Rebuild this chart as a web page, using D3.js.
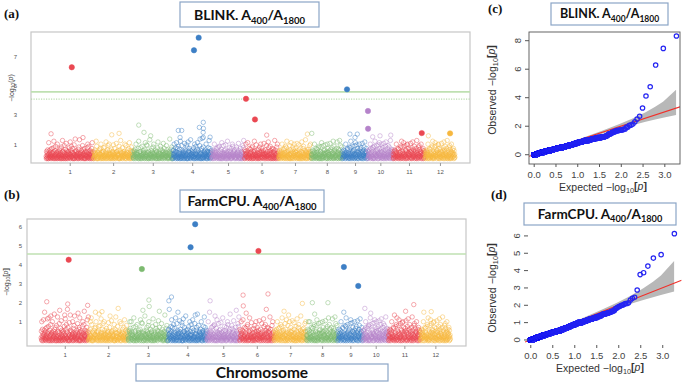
<!DOCTYPE html>
<html><head><meta charset="utf-8">
<script src="https://cdn.jsdelivr.net/npm/d3@7"></script>
<style>body{margin:0;background:#fff}svg{display:block}</style>
</head><body>
<script>
// ---------------- DATA ----------------
const chromosomes = ["1","2","3","4","5","6","7","8","9","10","11","12"];
const chrLengthsMb = [43.27, 35.94, 36.41, 35.50, 29.96, 31.25, 29.70, 28.44, 23.01, 23.21, 29.02, 27.53];
const chrColors = ["#ea4852", "#f6b73e", "#7dba70", "#3d7fc5", "#b583ca"];

// background SNPs per chromosome, in order along the chromosome; one char per SNP,
// value = index in "0-9a-z" x 0.05  (-log10 p)
const blinkBackground = [
"30a1582c40 06m2b71394 15d0362e81 4270f9o135 0b26h40718 92k0361a45 713c0e2580 2g4061p93a 5018i27304 d30l61b295 0471a83f26 16n05c2h39 3280e41705 j6019r3b42 5a3076218d 04g15q3726 80231b594i 2t06c71e04 91054a3682 0f3k2719h5 3601b4285a 07e1m32940",
"1a0274c385 52o0h61390 08314b27d6 60e2k15903 3719a0f426 24g0831n57 9051c3i268 0k46b17302 61d3805a92 4j0726e135 0382l19a64 75b4061h20 0c29p35184 18f0469273 2a5k0713i6 06938c2415 4e17m0253b 301g9648a2",
"5120b3a846 0d37k19265 6183e0o024 29a4f01735 0h52361b98 7401c2m369 30j5i28140 8a0261q573 16b04e3927 0g72k31856 42c0819a03 5f3n062714 0297h1d536 13b08a4l62 60e2751934 4i38c01729 2051a6r843 71d40g2603",
"0b16c4k728 35a0f29m41 6e0381h257 20d94o6031 1i37b52084 8a60l14c93 4270j5g016 0n29a3e581 15q0b76234 9c4182f063 3k06a17h52 60d2m9413b 2045i7r180 7b3e01s526 1g0429a368 5c71k30924 0a38f612p5 48e0179b23",
"2610a3c485 04k1b93726 9e05231f47 36g0h18240 5a1d70m392 0471i36b85 13c0j29604 82o0a45173 6f2b30941e 0517k2h836 4a93c06125 207g1d5384 93l0b61720 1e4850a326 08i3f7p214",
"0c15a6k382 37b0m29146 5e0281d793 20f4h63015 1a9o73b504 6j32c08412 4d0571g926 0k83a2e617 19b46l0325 7c2058i341 3a60n4f179 52h0b71836 0e4193d0a2 81p6c20457 2g07k35914",
"3061b2a847 05c93k1426 7d2041e658 1h30f97o25 40a8b31260 6i1c057m92 2051g38d47 0k7a42e196 93b0l51624 15j0c83702 4f20a9n613 80e3h71254 2b6q01948a 0c5174d392 37i0a2k651",
"1560a4c283 07b2k93164 4e3081d529 26f0h15703 9a1g60m382 0341i72b58 5c2j70814a 18k0e39625 60b2l41d73 3a0f5826o1 07h3c19245 42e0a6n187 9d05b31p62 1i7204g583",
"0a261c5384 3b07k14926 5e2d083167 1g40f3o725 80h29a1b36 4c07i1m352 26j0a5e198 03b7k46d21 9f1530l8a4 60c2g48n17 2a94e03561",
"0b1a463c82 27k0e51396 4d30f2g105 18h6o0a734 5b2i94c086 03j71m5e24 62a0k8d193 1f4b07l352 80c5h3n216 0a7e42i961 3g18b05p47 91d64a0c25",
"6105a2c384 0b27k93416 4e1d306258 29f0h41o73 1a5g80m623 74i0c35b19 0j2k61e847 36a0d52l91 8b0f14n372 5c3h0962a4 1e70p8b236 02g5i41d73 9a3k1805c6 47e02b1693",
"1a4072c596 38b0k61245 0e5d913274 6f2h03o185 20a1g47m39 5i93c06b28 4j1k70e362 07a3d82l15 91b46f05n3 2c0h85a714 6e3p10b942 35g07i2d18 0a4k9162c7 83e50b4162"
];
// [chromosome, position Mb, -log10 p]
const blinkPeaks = [[1,4.6,1.71],[2,16.7,1.64],[2,23.4,1.74],[3,5.4,2.31],[3,10.2,1.81],[3,16.3,1.57],
  [4,5.1,1.94],[4,8.2,1.94],[4,6.7,1.46],[4,27.9,2.5],[4,24.3,2.15],[4,28.0,2.08],[4,27.8,1.81],[4,27.9,1.46],
  [4,34.1,1.48],[6,20.3,1.62],[7,26.2,1.69],[8,0.5,1.74],[9,6.9,1.69],[9,13.6,1.69],[9,11.5,1.46],
  [10,11.3,1.57],[10,21.1,1.62],[10,4.6,1.5],[12,3.2,1.57]];
const blinkHits = [[1,23.5,6.29],[4,19.4,7.46],[4,23.7,8.33],[6,1.4,4.12],[6,9.6,2.7],[9,4.2,4.77],
  [10,0.3,3.28],[10,0.4,2.06],[11,26.2,1.76],[12,23.0,1.74]];
const blinkThresholds = [4.6, 4.1];

const farmBackground = [
"3a1k05c284 0m62b7u139 15d0362e8n 4270f9o135 0b26hq0718 92k0361a45 7s3c0e2580 2g4061p93a 5018i2w304 d30l61b295 0471a83f2r 16n05c2h39 32x0e41705 j6019r3b42 5a3076k18d 04g15q3726 80231b594i 2t06c71e0o 91054a3682 0f3k2719h5 v601b4285a 07e1m3294p",
"1a0274c3k5 52o0h61390 08314b27d6 6ue2k15903 3719a0f4s6 24g0831n57 9051c3i268 0k46b17302 61d3805a92 4j0726e1q5 0382l19a64 75b4061h20 0c29p35184 18f04y9273 2a5k0713i6 06938c2415 4e17m0253b 301g9648a2",
"5120b3a8k6 0d37k19265 6183e0o024 29a4f01735 0h52361b98 7401c2m369 30j5i28w40 8a0261q573 16b04e3927 0g72k31856 42c0819a03 5f3n062714 0297h1d536 13b08a4l62 6ve2751934 4i38c01729 2051a6r843 71d40g2603",
"0b16c4x728 35a0f29m41 6e0381h257 20d94o6031 1i37b5u084 8a60l14c93 4270j5g016 0n29a3e581 15q0b76234 9c4182f063 3k06a17h52 60d2m9413b 2045i7r180 7b3e01s526 1g0429a368 5c71k30924 0a38f612p5 48e0179b23",
"2610a3k485 04u1b93726 9e05231f47 36g0h18q40 5a1d70m392 0471i36b85 13c0j29604 82o0a45173 6f2b30941e 0517k2h836 4a93c0s125 207g1d5384 93l0b61720 1e48w0a326 08i3f7p214",
"0c15a6k382 37b0m29146 5e0281d7t3 20f4h63015 1a9o73b504 6j32c08412 4d0571g926 0k83a2e617 19b46l0325 7c2058i341 3a60n4f179 52h0b7x836 0e4193d0a2 81p6c20457 2g07k35914",
"3061b2a847 05c93k1426 7d2041e658 1h30f97o25 40a8b3v260 6i1c057m92 2051g38r47 0k7a42e196 93b0l51624 15j0c83702 4f20a9n613 80e3h71254 2b6q01948a 0c5174d392 37i0a2k651",
"1560a4c2k3 07b2k93164 4e3081d529 26f0h1s703 9a1g60m382 0341i72b58 5c2j70814a 18k0e39625 60b2l41d73 3a0f5826o1 07h3c19245 42e0a6n187 9d05b31p62 1i7204g583",
"0a261c5384 3b07k14926 5e2d08u167 1g40f3o725 80h29a1b36 4c07i1m352 26j0a5e198 03b7k46d21 9f1530l8a4 60c2g48n17 2a94e03561",
"0b1a463c82 27k0e51396 4d30f2g105 18h6o0t734 5b2i94c086 03j71m5e24 62a0k8d193 1f4b07l352 80c5h3n216 0a7e42i961 3g18b05p47 91d64a0c25",
"6105a2c384 0b27k93416 4e1d30r258 29f0h41o73 1a5g80m623 74i0c35b19 0j2k61e847 36a0dv2l91 8b0f14n372 5c3h0962a4 1e70p8b236 02g5i41d73 9a3k1805c6 47e02b1693",
"1a4072c596 38b0k6u245 0e5d913274 6f2h03o185 20a1g47m39 5i93c06b28 4j1k70e362 07a3d82l15 91b46f05n3 2c0h85a714 6e3p10b942 35g07i2d18 0a4k9162c7 83e50b4162"
];
const farmPeaks = [[1,5.2,2.05],[1,24.3,1.93],[1,42.5,1.86],[2,12.3,1.53],[3,19.1,2.14],[3,19.4,1.8],
  [4,0.9,2.1],[4,3.3,2.3],[5,3.0,2.1],[6,3.1,2.4],[6,25.8,2.46],[6,3.3,1.83],[7,25.9,1.96],[8,5.3,2.0],
  [8,19.5,2.0],[10,1.7,1.7],[11,23.1,1.9],[12,10.0,1.53]];
const farmHits = [[1,25.2,4.26],[3,12.7,3.77],[4,20.7,4.92],[4,24.9,6.13],[6,17.1,4.72],[9,5.6,3.88],[9,18.7,2.88]];
const farmThreshold = 4.56;

const manhattanTicksA = [1,3,5,7];
const manhattanTicksB = [1,2,3,4,5,6];
const qqXTicks = [0,0.5,1,1.5,2,2.5,3];
const qqYTicksC = [0,2,4,6,8];
const qqYTicksD = [0,1,2,3,4,5,6];
// 90% confidence band of the QQ plot
const qqBandExpected = [0.97, 1.27, 1.57, 1.97, 2.27, 2.57, 2.79, 2.97, 3.27];
const qqBandUpper    = [1.02, 1.35, 1.68, 2.15, 2.54, 2.98, 3.36, 3.72, 4.56];
const qqBandLower    = [0.92, 1.20, 1.48, 1.82, 2.07, 2.31, 2.47, 2.59, 2.79];

// ---------------- DRAW ----------------
const W = 685, H = 382;
const svg = d3.select("body").append("svg").attr("width", W).attr("height", H)
  .style("font-family", "'Liberation Sans', Arial, sans-serif");

const ALPH = "0123456789abcdefghijklmnopqrstuvwxyz";
const decode = s => s.replace(/\s+/g, "").split("").map(c => ALPH.indexOf(c) * 0.05);
const chrStarts = [0, ...d3.cumsum(chrLengthsMb)].slice(0, 12);

function logLabel(text, boldBrackets) {
  text.append("tspan").text("\u2212log");
  text.append("tspan").attr("font-size", "70%").attr("dy", "0.3em").text("10");
  text.append("tspan").attr("dy", "-0.3em").attr("font-weight", boldBrackets ? "bold" : null)
    .text(boldBrackets ? "[" : "(");
  text.append("tspan").attr("font-style", "italic").text("p");
  text.append("tspan").attr("font-weight", boldBrackets ? "bold" : null).text(boldBrackets ? "]" : ")");
}

function manhattan(o) {
  const g = svg.append("g");
  const x = d3.scaleLinear().domain(o.xDomain).range([o.left, o.right]);
  const y = d3.scaleLinear().domain(o.yDomain).range([o.bottom, o.top]);
  g.append("rect").attr("x", o.left).attr("y", o.top).attr("width", o.right - o.left)
    .attr("height", o.bottom - o.top).attr("fill", "none").attr("stroke", "#c6c6c6").attr("stroke-width", 1.2);
  // thresholds
  o.thresholds.forEach((t, i) => {
    g.append("line").attr("x1", o.left).attr("x2", o.right).attr("y1", y(t)).attr("y2", y(t))
      .attr("stroke", i === 0 ? "#bfe0b2" : "#a8d39a").attr("stroke-width", i === 0 ? 1.6 : 1)
      .attr("stroke-dasharray", i === 0 ? null : "1.2,1.3");
  });
  const pts = [];
  o.background.forEach((s, ci) => {
    const vals = decode(s);
    vals.forEach((v, i) => pts.push({c: ci, pos: chrStarts[ci] + (i + 0.5) / vals.length * chrLengthsMb[ci], v}));
  });
  o.peaks.forEach(p => pts.push({c: p[0] - 1, pos: chrStarts[p[0] - 1] + p[1], v: p[2]}));
  g.append("g").selectAll("circle").data(pts).join("circle")
    .attr("cx", d => x(d.pos)).attr("cy", d => y(d.v)).attr("r", 2.2)
    .attr("fill", "none").attr("stroke", d => chrColors[d.c % 5]).attr("stroke-width", 0.75)
    .attr("stroke-opacity", 0.62);
  const hits = o.hits.map(p => ({c: p[0] - 1, pos: chrStarts[p[0] - 1] + p[1], v: p[2]}));
  g.append("g").selectAll("circle").data(hits).join("circle")
    .attr("cx", d => x(d.pos)).attr("cy", d => y(d.v)).attr("r", 2.7)
    .attr("fill", d => chrColors[d.c % 5]).attr("stroke", d => chrColors[d.c % 5]).attr("stroke-width", 0.5);
  // x axis
  const mids = chrStarts.map((s, i) => s + chrLengthsMb[i] / 2);
  const xa = g.append("g").attr("transform", `translate(0,${o.bottom})`)
    .call(d3.axisBottom(x).tickValues(mids).tickFormat((d, i) => chromosomes[i]).tickSize(3).tickPadding(4));
  xa.select(".domain").remove();
  xa.selectAll("line").attr("stroke", "#999");
  xa.selectAll("text").attr("font-size", 6).attr("fill", "#555").attr("font-family", "'Liberation Sans', Arial");
  // y axis
  const ya = g.append("g").attr("transform", `translate(${o.left},0)`)
    .call(d3.axisLeft(y).tickValues(o.yTicks).tickFormat(d3.format("d")).tickSize(0).tickPadding(o.yPad));
  ya.select(".domain").remove();
  ya.selectAll("text").attr("font-size", 6).attr("fill", "#555").attr("font-family", "'Liberation Sans', Arial");
  const yl = g.append("text").attr("transform", `translate(${o.ylabX},${o.ylabY}) rotate(-90)`)
    .attr("text-anchor", "middle").attr("font-size", 7).attr("fill", "#444");
  logLabel(yl, o.boldBrackets);
  return pts.concat(hits).map(d => d.v);
}

function qq(o, values) {
  const g = svg.append("g");
  const x = d3.scaleLinear().domain(o.xDomain).range([o.left, o.right]);
  const y = d3.scaleLinear().domain(o.yDomain).range([o.bottom, o.top]);
  const clipId = "clip" + o.id;
  svg.append("clipPath").attr("id", clipId).append("rect")
    .attr("x", o.left).attr("y", o.top).attr("width", o.right - o.left).attr("height", o.bottom - o.top);
  const band = d3.area().x((d, i) => x(qqBandExpected[i])).y0((d, i) => y(qqBandLower[i])).y1((d, i) => y(qqBandUpper[i]));
  g.append("path").datum(qqBandExpected).attr("d", band).attr("fill", "#b8b8b8");
  const lim = o.xDomain;
  g.append("line").attr("clip-path", `url(#${clipId})`)
    .attr("x1", x(lim[0])).attr("y1", y(lim[0])).attr("x2", x(lim[1])).attr("y2", y(lim[1]))
    .attr("stroke", "#f0302a").attr("stroke-width", 1.1);
  const sorted = values.slice().sort((a, b) => b - a);
  const n = sorted.length;
  const pts = sorted.map((v, i) => ({e: -Math.log10((i + 1) / (n + 1)), v}));
  g.append("g").selectAll("circle").data(pts.reverse()).join("circle")
    .attr("cx", d => x(d.e)).attr("cy", d => y(d.v)).attr("r", 2.2)
    .attr("fill", "none").attr("stroke", "#2424f2").attr("stroke-width", 1.2);
  if (o.frame) {
    g.append("rect").attr("x", o.left).attr("y", o.top).attr("width", o.right - o.left)
      .attr("height", o.bottom - o.top).attr("fill", "none").attr("stroke", "#555").attr("stroke-width", 0.9);
  }
  // x axis
  const xa = g.append("g").attr("transform", `translate(0,${o.xAxisY})`)
    .call(d3.axisBottom(x).tickValues(qqXTicks).tickFormat(d3.format(".1f")).tickSize(3).tickPadding(4));
  xa.select(".domain").remove();
  xa.selectAll("line").attr("stroke", "#555");
  xa.selectAll("text").attr("font-size", 9.5).attr("fill", "#444").attr("font-family", "'Liberation Sans', Arial");
  // y axis
  const ya = g.append("g");
  o.yTicks.forEach(t => {
    ya.append("line").attr("x1", o.yAxisX - 4).attr("x2", o.yAxisX).attr("y1", y(t)).attr("y2", y(t)).attr("stroke", "#555");
    ya.append("text").attr("transform", `translate(${o.yAxisX - 8.5},${y(t)}) rotate(-90)`)
      .attr("text-anchor", "middle").attr("font-size", 9.5).attr("fill", "#444").text(t);
  });
  const xl = g.append("text").attr("x", o.xlabX).attr("y", o.xlabY).attr("text-anchor", "middle")
    .attr("font-size", 10.5).attr("fill", "#333");
  xl.append("tspan").text("Expected  ");
  logLabel(xl, true);
  const yl = g.append("text").attr("transform", `translate(${o.ylabX},${o.ylabY}) rotate(-90)`)
    .attr("text-anchor", "middle").attr("font-size", 10.5).attr("fill", "#333");
  yl.append("tspan").text("Observed  ");
  logLabel(yl, true);
}

function titleBox(x0, y0, x1, y1, prefix, fs, base) {
  svg.append("rect").attr("x", x0).attr("y", y0).attr("width", x1 - x0).attr("height", y1 - y0)
    .attr("fill", "#fff").attr("stroke", "#8ba5c6").attr("stroke-width", 1.2);
  const t = svg.append("text").attr("x", (x0 + x1) / 2).attr("y", base).attr("text-anchor", "middle")
    .attr("font-family", "Lato, 'Open Sans', sans-serif").attr("font-weight", "bold")
    .attr("font-size", fs).attr("fill", "#111");
  t.append("tspan").text(prefix + " A");
  t.append("tspan").attr("dy", fs * 0.28).attr("font-size", fs * 0.68).text("400");
  t.append("tspan").attr("dy", -fs * 0.28).text("/A");
  t.append("tspan").attr("dy", fs * 0.28).attr("font-size", fs * 0.68).text("1800");
}

function panelLabel(txt, x, yb) {
  svg.append("text").attr("x", x).attr("y", yb).attr("font-family", "'Liberation Serif', 'Times New Roman', serif")
    .attr("font-weight", "bold").attr("font-size", 13).attr("fill", "#111").text(txt);
}

// (a) BLINK Manhattan
const blinkValues = manhattan({
  left: 31, right: 470, top: 32, bottom: 163, xDomain: [-13.7, 386.9], yDomain: [-0.3, 8.72],
  background: blinkBackground, peaks: blinkPeaks, hits: blinkHits, thresholds: blinkThresholds,
  yTicks: manhattanTicksA, yPad: 14, ylabX: 14, ylabY: 88, boldBrackets: false
});
// (b) FarmCPU Manhattan
const farmValues = manhattan({
  left: 27, right: 466, top: 219, bottom: 346, xDomain: [-12.8, 387.4], yDomain: [-0.279, 6.405],
  background: farmBackground, peaks: farmPeaks, hits: farmHits, thresholds: [farmThreshold],
  yTicks: manhattanTicksB, yPad: 5, ylabX: 9, ylabY: 282, boldBrackets: true
});
// (c) BLINK QQ
qq({id: "c", left: 529, right: 680, top: 32, bottom: 164, xDomain: [-0.108, 3.36], yDomain: [-0.65, 8.61],
  frame: true, xAxisY: 164, yAxisX: 529, yTicks: qqYTicksC, xlabX: 603, xlabY: 191, ylabX: 496, ylabY: 90}, blinkValues);
// (d) FarmCPU QQ
qq({id: "d", left: 525, right: 681.6, top: 229.5, bottom: 344.3, xDomain: [-0.12, 3.44], yDomain: [-0.25, 6.37],
  frame: false, xAxisY: 345, yAxisX: 528, yTicks: qqYTicksD, xlabX: 600, xlabY: 372, ylabX: 496, ylabY: 288}, farmValues);

// titles and labels
titleBox(180, 2, 319, 27, "BLINK.", 14, 20);
titleBox(180, 190, 324, 212, "FarmCPU.", 14, 206);
titleBox(551, 3, 668, 25, "BLINK.", 12.5, 18);
titleBox(524, 203, 676, 225, "FarmCPU.", 13.5, 218.5);
svg.append("rect").attr("x", 136).attr("y", 364).attr("width", 252).attr("height", 17)
  .attr("fill", "#fff").attr("stroke", "#8ba5c6").attr("stroke-width", 1.2);
svg.append("text").attr("x", 262).attr("y", 378).attr("text-anchor", "middle")
  .attr("font-family", "Lato, 'Open Sans', sans-serif").attr("font-weight", "bold").attr("font-size", 15.5)
  .attr("fill", "#111").text("Chromosome");
panelLabel("(a)", 4, 18);
panelLabel("(b)", 4, 199);
panelLabel("(c)", 488, 13);
panelLabel("(d)", 491, 199);
</script>
</body></html>
